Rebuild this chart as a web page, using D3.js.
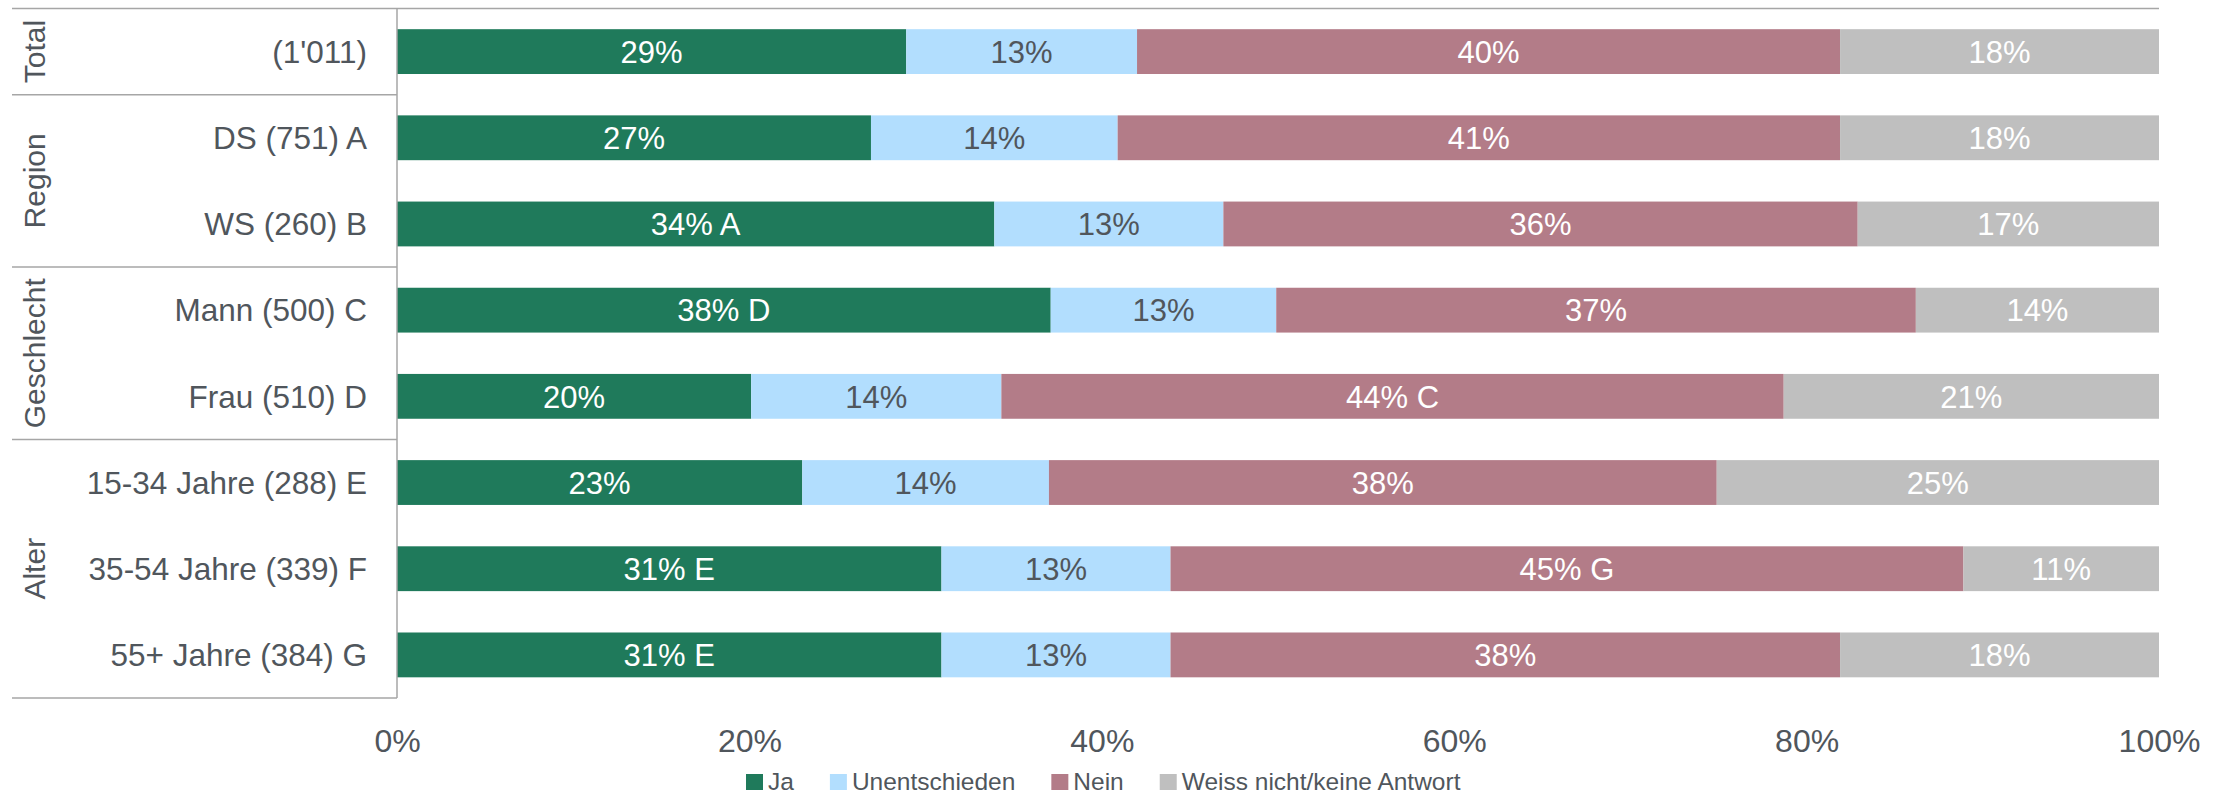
<!DOCTYPE html>
<html>
<head>
<meta charset="utf-8">
<script src="https://cdn.jsdelivr.net/npm/d3@7"></script>
<style>
  html, body { margin: 0; padding: 0; background: #ffffff; }
  svg { display: block; font-family: "Liberation Sans", Arial, sans-serif; }
</style>
</head>
<body>
<svg id="chart" width="2225" height="795"></svg>
<script>
// categories (rows, top to bottom)
const categories = ['(1\'011)', 'DS (751) A', 'WS (260) B', 'Mann (500) C', 'Frau (510) D',
  '15-34 Jahre (288) E', '35-54 Jahre (339) F', '55+ Jahre (384) G'];

// grouping of rows
const groups = [
  { name: 'Total', rows: ['(1\'011)'] },
  { name: 'Region', rows: ['DS (751) A', 'WS (260) B'] },
  { name: 'Geschlecht', rows: ['Mann (500) C', 'Frau (510) D'] },
  { name: 'Alter', rows: ['15-34 Jahre (288) E', '35-54 Jahre (339) F', '55+ Jahre (384) G'] }
];

const seriesNames = ['Ja', 'Unentschieden', 'Nein', 'Weiss nicht/keine Antwort'];

// series values (percent)
const ja =            [28.9, 26.9, 33.9, 37.1, 20.1, 23.0, 30.9, 30.9];
const unentschieden = [13.1, 14.0, 13.0, 12.8, 14.2, 14.0, 13.0, 13.0];
const nein =          [39.9, 41.0, 36.0, 36.3, 44.4, 37.9, 45.0, 38.0];
const weissNicht =    [18.1, 18.1, 17.1, 13.8, 21.3, 25.1, 11.1, 18.1];

// data labels shown in the bars
const jaLabels =    ['29%', '27%', '34% A', '38% D', '20%', '23%', '31% E', '31% E'];
const unentLabels = ['13%', '14%', '13%', '13%', '14%', '14%', '13%', '13%'];
const neinLabels =  ['40%', '41%', '36%', '37%', '44% C', '38%', '45% G', '38%'];
const weissLabels = ['18%', '18%', '17%', '14%', '21%', '25%', '11%', '18%'];

const xTicks = [0, 20, 40, 60, 80, 100];

const colors = ['#1f7a5b', '#b2defe', '#b37c88', '#bfbfbf'];
const labelColors = ['#ffffff', '#50565c', '#ffffff', '#ffffff'];
const textColor = '#50565c';
const lineColor = '#a6a6a6';

const seriesValues = [ja, unentschieden, nein, weissNicht];
const seriesLabels = [jaLabels, unentLabels, neinLabels, weissLabels];

const table = categories.map((c, i) => {
  const row = { category: c };
  seriesNames.forEach((s, k) => { row[s] = seriesValues[k][i]; });
  return row;
});

const svg = d3.select('#chart');

const plotLeft = 397, plotRight = 2159, plotTop = 8.5, plotBottom = 698;
const tableLeft = 12;

const x = d3.scaleLinear().domain([0, 100]).range([plotLeft, plotRight]);
const y = d3.scaleBand().domain(categories).range([plotTop, plotBottom])
  .paddingInner(0.48).paddingOuter(0.24);

const stack = d3.stack().keys(seriesNames);
const stacked = stack(table);

// bars
const layers = svg.append('g').selectAll('g')
  .data(stacked)
  .enter().append('g')
  .attr('fill', (d, k) => colors[k]);

layers.selectAll('rect')
  .data(d => d)
  .enter().append('rect')
  .attr('x', d => x(d[0]))
  .attr('y', d => y(d.data.category))
  .attr('width', d => x(d[1]) - x(d[0]))
  .attr('height', y.bandwidth());

// bar labels
stacked.forEach((layer, k) => {
  svg.append('g').selectAll('text')
    .data(layer)
    .enter().append('text')
    .attr('x', d => (x(d[0]) + x(d[1])) / 2)
    .attr('y', d => y(d.data.category) + y.bandwidth() / 2)
    .attr('dy', '0.36em')
    .attr('text-anchor', 'middle')
    .style('fill', labelColors[k])
    .style('font-size', '31px')
    .text((d, i) => seriesLabels[k][i]);
});

// table lines
const step = y.step();
const lines = svg.append('g').attr('stroke', lineColor).attr('stroke-width', 1.5);

lines.append('line')
  .attr('x1', tableLeft).attr('x2', plotRight)
  .attr('y1', plotTop).attr('y2', plotTop);

lines.append('line')
  .attr('x1', plotLeft).attr('x2', plotLeft)
  .attr('y1', plotTop).attr('y2', plotBottom);

let rowIndex = 0;
groups.forEach(g => {
  const top = plotTop + rowIndex * step;
  const bottom = top + g.rows.length * step;
  lines.append('line')
    .attr('x1', tableLeft).attr('x2', plotLeft)
    .attr('y1', bottom).attr('y2', bottom);

  svg.append('text')
    .attr('transform', `translate(34,${(top + bottom) / 2}) rotate(-90)`)
    .attr('text-anchor', 'middle')
    .attr('dy', '0.36em')
    .style('fill', textColor)
    .style('font-size', '30px')
    .text(g.name);

  rowIndex += g.rows.length;
});

// category labels
svg.append('g').selectAll('text')
  .data(categories)
  .enter().append('text')
  .attr('x', 367)
  .attr('y', d => y(d) + y.bandwidth() / 2)
  .attr('dy', '0.36em')
  .attr('text-anchor', 'end')
  .style('fill', textColor)
  .style('font-size', '31.5px')
  .text(d => d);

// x axis
const xAxis = d3.axisBottom(x)
  .tickValues(xTicks)
  .tickSize(0)
  .tickPadding(0)
  .tickFormat(d => d + '%');

const axisG = svg.append('g')
  .attr('transform', 'translate(0,752)')
  .call(xAxis);
axisG.select('.domain').remove();
axisG.selectAll('text')
  .attr('dy', 0)
  .style('fill', textColor)
  .style('font-size', '32px')
  .style('font-family', '"Liberation Sans", Arial, sans-serif');

// legend
const legend = svg.append('g');
let lx = 746;
seriesNames.forEach((name, k) => {
  legend.append('rect')
    .attr('x', lx).attr('y', 774)
    .attr('width', 17).attr('height', 16)
    .attr('fill', colors[k]);
  const t = legend.append('text')
    .attr('x', lx + 22)
    .attr('y', 790)
    .style('fill', textColor)
    .style('font-size', '24.5px')
    .text(name);
  const w = t.node().getComputedTextLength();
  lx += 22 + w + 36;
});
</script>
</body>
</html>
